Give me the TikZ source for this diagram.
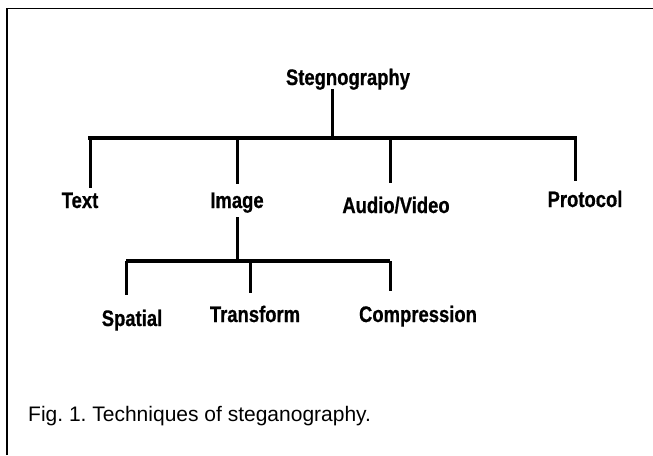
\documentclass[tikz,border=0pt]{standalone}
\usepackage{fontspec}
\setmainfont{Liberation Sans}
\newfontfamily\labfont[FakeStretch=0.82,BoldFeatures={FakeBold=0.6}]{Liberation Sans}
\frenchspacing
\tikzset{
  lab/.style={inner sep=0pt, anchor=base, font=\labfont\bfseries\fontsize{22.5pt}{26pt}\selectfont},
  captext/.style={inner sep=0pt, anchor=base west, font=\fontsize{21pt}{25pt}\selectfont},
  bar/.style={line width=4pt},
  vline/.style={line width=3pt},
  frameline/.style={line width=1.8pt}
}
\begin{document}
\begin{tikzpicture}[x=1pt,y=-1pt]
\useasboundingbox (0,0) rectangle (653,455);
% frame
\coordinate (f1) at (7,455);
\coordinate (f2) at (7,8.5);
\coordinate (f3) at (653,8.5);
\draw[frameline] (f1) -- (f2) -- (f3);
% labels
\node[lab] (root) at (348,85) {Stegnography};
\node[lab] (text) at (80,208) {Text};
\node[lab] (image) at (237,208) {Image};
\node[lab] (av) at (396,213) {Audio/Video};
\node[lab] (proto) at (585,207) {Protocol};
\node[lab] (spatial) at (132,326) {Spatial};
\node[lab] (trans) at (255,322) {Transform};
\node[lab] (comp) at (418,322) {Compression};
\node[captext] (caption) at (28,421) {Fig. 1. Techniques of steganography.};
% first level
\coordinate (rt) at (332,89);
\coordinate (rb) at (332,138);
\coordinate (bl) at (88,138);
\coordinate (br) at (577,138);
\coordinate (tT) at (90,188);
\coordinate (tI) at (237,184);
\coordinate (tA) at (390,183);
\coordinate (tP) at (575,181);
\draw[vline] (rt) -- (rb);
\draw[bar] (bl) -- (br);
\draw[vline] (tT |- bl) -- (tT);
\draw[vline] (tI |- bl) -- (tI);
\draw[vline] (tA |- bl) -- (tA);
\draw[vline] (tP |- bl) -- (tP);
% second level
\coordinate (it) at (237,217);
\coordinate (ib) at (237,261);
\coordinate (sl) at (126,261);
\coordinate (sr) at (390,261);
\coordinate (tS) at (126,295);
\coordinate (tTr) at (250,293);
\coordinate (tC) at (390,291);
\draw[vline] (it) -- (ib);
\draw[bar] (sl) -- (sr);
\draw[vline] (tS |- sl) -- (tS);
\draw[vline] (tTr |- sl) -- (tTr);
\draw[vline] (tC |- sl) -- (tC);
\end{tikzpicture}
\end{document}
